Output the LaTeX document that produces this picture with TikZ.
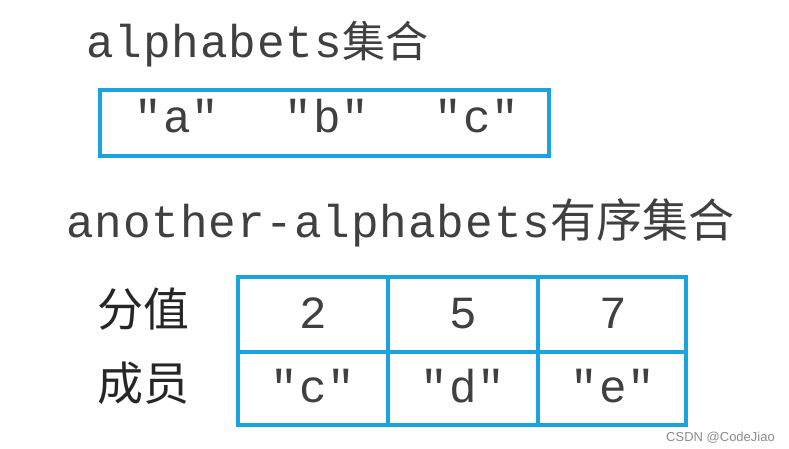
\documentclass[tikz,border=0pt]{standalone}
\usepackage{fontspec}
\newfontfamily\mono[LetterSpace=2]{Liberation Mono}
\newfontfamily\cjk{Noto Sans CJK SC}
\newfontfamily\wm{Liberation Sans}
\definecolor{boxblue}{RGB}{27,163,224}
\begin{document}
\begin{tikzpicture}[x=1pt,y=-1pt,
  frame/.style={draw=boxblue,line width=3.5pt},
  txt/.style={inner sep=0pt,font=\mono\fontsize{46}{50}\selectfont,text=black!75},
  lbl/.style={inner sep=0pt,font=\cjk\fontsize{46}{50}\selectfont,text=black!85}]
\useasboundingbox (0,0) rectangle (789,449);
% titles
\node[txt,anchor=base west] (t1) at (86,58) {alphabets{\cjk\fontsize{43}{48}\selectfont 集合}};
\node[txt,anchor=base west] (t2) at (66,237) {another-alphabets{\cjk\fontsize{46}{50}\selectfont 有序集合}};
% set box
\draw[frame] (100,90) rectangle (549,156);
\node[txt,anchor=base] (a) at (177,133) {"a"};
\node[txt,anchor=base] (b) at (327,133) {"b"};
\node[txt,anchor=base] (c) at (477,133) {"c"};
% sorted set table
\draw[frame] (238,277) rectangle (686,425);
\draw[frame] (238,352) -- (686,352);
\draw[frame] (388,277) -- (388,425);
\draw[frame] (538,277) -- (538,425);
\node[txt,anchor=base] (s2) at (313,328) {2};
\node[txt,anchor=base] (s5) at (463,328) {5};
\node[txt,anchor=base] (s7) at (613,328) {7};
\node[txt,anchor=base] (mc) at (313,402) {"c"};
\node[txt,anchor=base] (md) at (463,402) {"d"};
\node[txt,anchor=base] (me) at (613,402) {"e"};
\node[lbl,anchor=base] (score) at (143,326) {分值};
\node[lbl,anchor=base] (member) at (143,400) {成员};
% watermark
\node[inner sep=0pt,anchor=base east,font=\wm\fontsize{13}{15}\selectfont,text=black!45] (wmk) at (775,441) {CSDN @CodeJiao};
\end{tikzpicture}
\end{document}
